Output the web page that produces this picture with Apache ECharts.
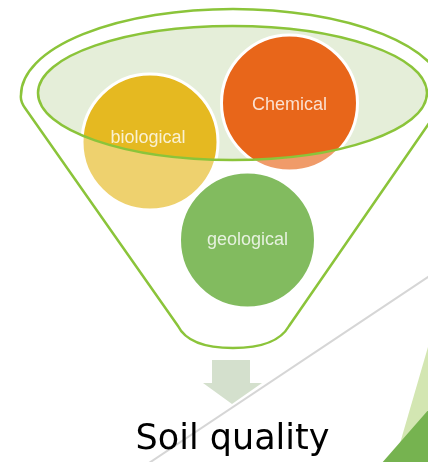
<!DOCTYPE html>
<html>
<head>
<meta charset="utf-8">
<script src="https://cdn.jsdelivr.net/npm/echarts@6/dist/echarts.min.js"></script>
<style>
  html, body { margin: 0; padding: 0; background: #fff; }
  #main { width: 428px; height: 462px; }
</style>
</head>
<body>
<div id="main"></div>
<script>
// the three factors that pour into the funnel
const factorNames = ['biological', 'Chemical', 'geological'];
const factorX = [150, 289.5, 247.5];
const factorY = [142, 103, 240];
const outcomeLabel = 'Soil quality';

const factorColors = ['#e5b921', '#e8661a', '#3f970a'];
const labelOffsets = [[-2, -4], [0, 2], [0, 0]];
const green = '#8bc43a';

const chart = echarts.init(document.getElementById('main'));

function factorData(withColor) {
  return factorNames.map((name, i) => ({
    name: name,
    value: [factorX[i], factorY[i]],
    itemStyle: withColor ? { color: factorColors[i] } : undefined,
    label: { offset: labelOffsets[i] }
  }));
}

// light green inside of the funnel mouth
function renderBack(params, api) {
  const c = api.coord([232.5, 93]);
  const s = api.size([194.5, 67]);
  return {
    type: 'ellipse',
    shape: { cx: c[0], cy: c[1], rx: s[0], ry: s[1] },
    style: { fill: '#e5eed9' }
  };
}

// everything drawn on top of the circles
function renderFront(params, api) {
  const p = (x, y) => api.coord([x, y]).join(' ');
  const r = (a, b) => api.size([a, b]).join(' ');
  const c = api.coord([232.5, 93]);
  const s = api.size([194.5, 67]);

  // fades the circles where they hang out of the mouth
  const veil = 'M' + p(0, 0) + ' L' + p(428, 0) + ' L' + p(428, 462) + ' L' + p(0, 462) + ' Z ' +
    'M' + p(38, 93) + ' A' + r(194.5, 67) + ' 0 0 0 ' + p(427, 93) +
    ' A' + r(194.5, 67) + ' 0 0 0 ' + p(38, 93) + ' Z';

  const funnel = 'M' + p(178, 326) + ' L' + p(25, 108) + ' Q' + p(20, 101) + ' ' + p(21, 95) +
    ' A' + r(212, 86) + ' 0 0 1 ' + p(445, 95) + ' Q' + p(446, 101) + ' ' + p(441, 106) +
    ' L' + p(289, 326) + ' C' + p(280, 342) + ' ' + p(258, 348) + ' ' + p(233, 348) +
    ' C' + p(208, 348) + ' ' + p(186, 342) + ' ' + p(178, 326) + ' Z';

  const a = api.coord([140, 469]);
  const b = api.coord([440, 269]);

  return {
    type: 'group',
    children: [
      { type: 'path', shape: { pathData: veil }, style: { fill: 'rgba(255,255,255,0.35)' } },
      {
        type: 'line',
        shape: { x1: a[0], y1: a[1], x2: b[0], y2: b[1] },
        style: { stroke: '#d6d6d6', lineWidth: 2 }
      },
      {
        type: 'polygon',
        shape: { points: [api.coord([430, 340]), api.coord([394, 464]), api.coord([430, 464])] },
        style: { fill: '#d3e6b2' }
      },
      {
        type: 'polygon',
        shape: { points: [api.coord([430, 408]), api.coord([381, 464]), api.coord([430, 464])] },
        style: { fill: '#76b350' }
      },
      {
        type: 'ellipse',
        shape: { cx: c[0], cy: c[1], rx: s[0], ry: s[1] },
        style: { fill: null, stroke: green, lineWidth: 2.5 }
      },
      { type: 'path', shape: { pathData: funnel }, style: { fill: null, stroke: green, lineWidth: 2.5 } },
      {
        type: 'polygon',
        shape: {
          points: [
            api.coord([212, 360]), api.coord([250, 360]), api.coord([250, 383]),
            api.coord([262, 383]), api.coord([232, 404]), api.coord([203, 383]),
            api.coord([212, 383])
          ]
        },
        style: { fill: '#d4e0cd' }
      }
    ]
  };
}

const option = {
  animation: false,
  grid: { left: 0, right: 0, top: 0, bottom: 0 },
  xAxis: { type: 'value', min: 0, max: 428, show: false },
  yAxis: { type: 'value', min: 0, max: 462, inverse: true, show: false },
  graphic: [{
    type: 'text',
    x: 232.5,
    y: 440,
    z: 10,
    style: {
      text: outcomeLabel,
      font: '35px "DejaVu Sans"',
      fill: '#000',
      align: 'center',
      verticalAlign: 'middle'
    }
  }],
  series: [
    {
      type: 'custom',
      z: 1,
      silent: true,
      data: [[0, 0]],
      renderItem: renderBack
    },
    {
      type: 'scatter',
      z: 2,
      silent: true,
      symbolSize: 136,
      itemStyle: { borderColor: '#fff', borderWidth: 3, opacity: 1 },
      label: { show: false },
      data: factorData(true)
    },
    {
      type: 'custom',
      z: 3,
      silent: true,
      data: [[0, 0]],
      renderItem: renderFront
    },
    {
      type: 'scatter',
      z: 4,
      silent: true,
      symbolSize: 136,
      itemStyle: { color: 'transparent', borderWidth: 0 },
      label: {
        show: true,
        position: 'inside',
        formatter: '{b}',
        color: '#fff',
        fontSize: 18,
        fontFamily: 'Liberation Sans'
      },
      data: factorData(false)
    }
  ]
};

chart.setOption(option);
</script>
</body>
</html>
